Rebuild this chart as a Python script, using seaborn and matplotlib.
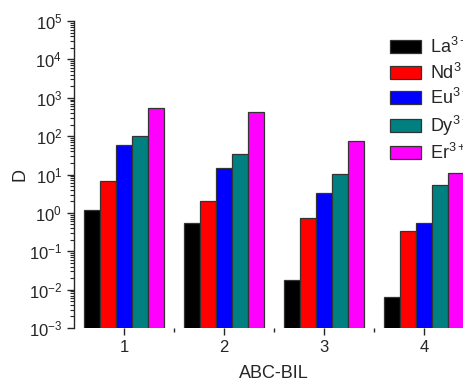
import matplotlib
matplotlib.use("Agg")
import matplotlib.pyplot as plt
import matplotlib.patches as mpatches
import seaborn as sns
import pandas as pd
import numpy as np

groups = ["1", "2", "3", "4"]
ions = ["La$^{3+}$", "Nd$^{3+}$", "Eu$^{3+}$", "Dy$^{3+}$", "Er$^{3+}$"]
La = [1.2, 0.55, 0.018, 0.0065]
Nd = [6.8, 2.05, 0.74, 0.34]
Eu = [59, 14.8, 3.3, 0.55]
Dy = [100, 35, 10.4, 5.4]
Er = [540, 427, 75, 11]
colors = ["#000000", "#FF0000", "#0000FF", "#008080", "#FF00FF"]

rows = []
for ion, vals in zip(ions, [La, Nd, Eu, Dy, Er]):
    for g, v in zip(groups, vals):
        rows.append({"ABC-BIL": g, "D": v, "ion": ion})
df = pd.DataFrame(rows)

sns.set_style("ticks")
plt.rcParams["font.family"] = ["Liberation Sans", "DejaVu Sans"]
plt.rcParams["mathtext.fontset"] = "custom"
plt.rcParams["mathtext.rm"] = "Liberation Sans"
plt.rcParams["mathtext.it"] = "Liberation Sans"

fig = plt.figure(figsize=(4.64, 3.81), dpi=100)
ax = fig.add_axes([74/464, 53/381, 400/464, 307/381])

sns.barplot(data=df, x="ABC-BIL", y="D", hue="ion", order=groups, hue_order=ions,
            palette=colors, edgecolor="#333333", linewidth=0.9, saturation=1,
            width=0.8, ax=ax, legend=False, log_scale=(False, True))

ax.set_yscale("log")
ax.set_ylim(1e-3, 1e5)
ax.set_xlim(-0.5, 3.5)
ax.yaxis.set_major_locator(matplotlib.ticker.LogLocator(base=10, numticks=20))
ax.yaxis.set_minor_locator(matplotlib.ticker.LogLocator(base=10, subs=np.arange(2, 10), numticks=20))
ax.yaxis.set_minor_formatter(matplotlib.ticker.NullFormatter())
ax.set_xticks([0.5, 1.5, 2.5], minor=True)
for s in ["top", "right", "bottom"]:
    ax.spines[s].set_visible(False)
ax.spines["left"].set_linewidth(1.0)
ax.tick_params(axis="both", which="major", direction="out", length=5, width=1, labelsize=12)
ax.tick_params(axis="y", which="minor", direction="out", length=3, width=0.8)
ax.tick_params(axis="x", which="minor", direction="out", length=3, width=1)
ax.set_xlabel("ABC-BIL", fontsize=13, labelpad=7)
ax.set_ylabel("D", fontsize=13, labelpad=0)

handles = [mpatches.Patch(facecolor=c, edgecolor="#333333", linewidth=0.9) for c in colors]
fig.legend(handles, ions, loc="upper left", bbox_to_anchor=(390/464, 1 - 37/381),
           frameon=False, fontsize=13, handlelength=1.72, handleheight=0.72,
           labelspacing=0.3, handletextpad=0.5, borderaxespad=0, borderpad=0)

fig.savefig("out.png", dpi=100)
